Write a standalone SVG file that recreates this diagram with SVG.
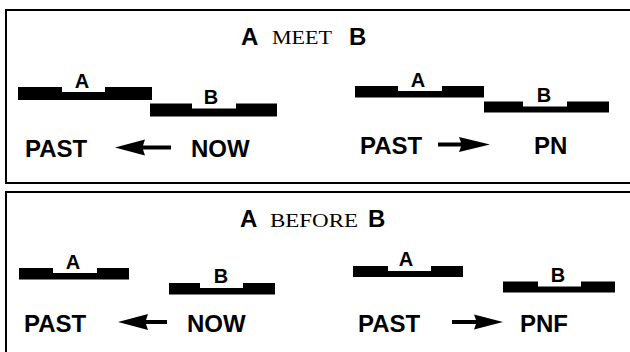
<svg xmlns="http://www.w3.org/2000/svg" width="630" height="352" viewBox="0 0 630 352">
<style>
.frame{fill:none;stroke:#000;stroke-width:2}
.bar{fill:#000}
.lbl{font-family:"Liberation Sans",Arial,sans-serif;font-weight:bold;font-size:20px;fill:#000;text-anchor:middle}
.big{font-family:"Liberation Sans",Arial,sans-serif;font-weight:bold;font-size:24px;fill:#000}
.ttl{font-family:"Liberation Sans",Arial,sans-serif;font-weight:bold;font-size:24px;fill:#000}
.ser{font-family:"Liberation Serif","Times New Roman",serif;font-size:18px;fill:#000}
.arr{fill:#000}
</style>
<g id="panel-meet">
  <path class="frame" d="M630,10 H6 V183 H630"/>
  <g id="title-meet">
    <text class="ttl" x="241" y="44.5">A</text>
    <text class="ser" x="272" y="44" textLength="60" lengthAdjust="spacingAndGlyphs">MEET</text>
    <text class="ttl" x="349" y="44.5">B</text>
  </g>
  <g id="meet-left-A">
    <path class="bar" d="M18,87 H62 V92 H105 V87 H152 V100 H18 Z"/>
    <text class="lbl" x="82" y="87.5">A</text>
  </g>
  <g id="meet-left-B">
    <path class="bar" d="M150,103.5 H192 V108.5 H236 V103.5 H277 V116.5 H150 Z"/>
    <text class="lbl" x="211" y="103.5">B</text>
  </g>
  <g id="meet-left-PAST"><text class="big" x="25" y="156.5">PAST</text></g>
  <g id="meet-left-NOW"><text class="big" x="191" y="156.5">NOW</text></g>
  <g id="meet-right-A">
    <path class="bar" d="M355,86 H398 V91 H442 V86 H484 V97.5 H355 Z"/>
    <text class="lbl" x="418" y="86.5">A</text>
  </g>
  <g id="meet-right-B">
    <path class="bar" d="M484,101.5 H523 V106.5 H567 V101.5 H609 V112.5 H484 Z"/>
    <text class="lbl" x="544" y="101.5">B</text>
  </g>
  <g id="meet-right-PAST"><text class="big" x="360" y="153.5">PAST</text></g>
  <g id="meet-right-PN"><text class="big" x="534" y="153.5">PN</text></g>
</g>
<g id="panel-before">
  <path class="frame" d="M630,192 H6 V352"/>
  <g id="title-before">
    <text class="ttl" x="240" y="227">A</text>
    <text class="ser" x="270" y="226.5" textLength="88" lengthAdjust="spacingAndGlyphs">BEFORE</text>
    <text class="ttl" x="368" y="227">B</text>
  </g>
  <g id="before-left-A">
    <path class="bar" d="M19,268 H53 V273 H97 V268 H129 V279.5 H19 Z"/>
    <text class="lbl" x="73" y="268.5">A</text>
  </g>
  <g id="before-left-B">
    <path class="bar" d="M169,283 H200 V288 H243 V283 H275 V294.5 H169 Z"/>
    <text class="lbl" x="221" y="283">B</text>
  </g>
  <g id="before-left-PAST"><text class="big" x="24" y="331.5">PAST</text></g>
  <g id="before-left-NOW"><text class="big" x="187" y="331.5">NOW</text></g>
  <g id="before-right-A">
    <path class="bar" d="M353,266 H388 V271 H431 V266 H463 V277 H353 Z"/>
    <text class="lbl" x="406" y="266">A</text>
  </g>
  <g id="before-right-B">
    <path class="bar" d="M503,281.5 H538 V286.5 H581 V281.5 H615 V292.5 H503 Z"/>
    <text class="lbl" x="558" y="281.5">B</text>
  </g>
  <g id="before-right-PAST"><text class="big" x="358" y="331.5">PAST</text></g>
  <g id="before-right-PNF"><text class="big" x="520" y="331.5">PNF</text></g>
</g>
<g id="connectors">
  <path class="arr" d="M115,147.5 L145,139.5 L143,145.5 H171 V149.5 H143 L145,155.5 Z"/>
  <path class="arr" d="M490,144.5 L459,137 L461,142.5 H438 V146.5 H461 L459,152 Z"/>
  <path class="arr" d="M118,322 L148,314 L146,320 H167 V324 H146 L148,330 Z"/>
  <path class="arr" d="M503,322 L474,314.5 L476,320 H452 V324 H476 L474,329.5 Z"/>
</g>
</svg>
